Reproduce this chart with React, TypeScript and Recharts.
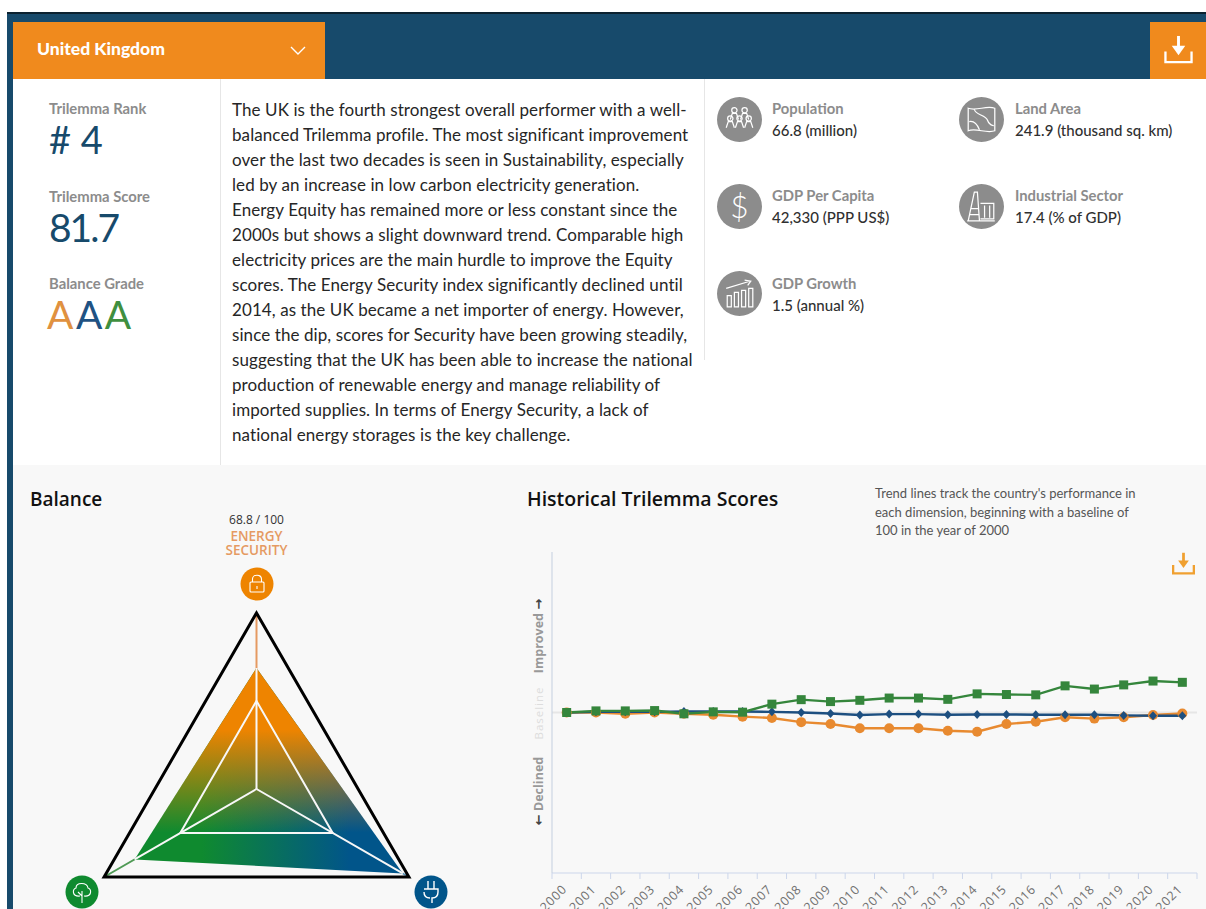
import React from "react";
import { LineChart, Line, XAxis, YAxis, ReferenceLine, RadarChart, Radar, PolarAngleAxis, PolarRadiusAxis } from "recharts";

const years = ["2000","2001","2002","2003","2004","2005","2006","2007","2008","2009","2010","2011","2012","2013","2014","2015","2016","2017","2018","2019","2020","2021"];
const security = [100,100,99.6,100,99.6,99.3,98.7,98.3,97,96.4,95.1,95.1,95.1,94.3,94,96.4,97.1,98.5,98.1,98.5,99.2,99.7];
const equity = [100,100.2,100.2,100.2,100.3,100.3,100.3,100.2,100,99.7,99.2,99.5,99.5,99.3,99.4,99.4,99.3,99.3,99.3,99.1,99,99];
const sustainability = [100,100.5,100.5,100.6,99.6,100.2,100.1,102.6,104,103.4,103.8,104.5,104.5,104.1,105.8,105.6,105.5,108.3,107.3,108.6,109.8,109.4];
const lineRows = years.map((year, i) => ({ year, security: security[i], equity: equity[i], sustainability: sustainability[i] }));

const radarAxes = ["Energy Security", "Energy Equity", "Environmental Sustainability"];
const radarScores = [68.8, 96, 80];
const radarOuter = [100, 100, 100];
const radarInner = [50, 50, 50];
const radarRows = radarAxes.map((axis, i) => ({
  axis,
  score: radarScores[i],
  outer: radarOuter[i],
  inner: radarInner[i],
  outerA: i === 0 ? radarOuter[i] : 0,
  outerB: i === 1 ? radarOuter[i] : 0,
  outerC: i === 2 ? radarOuter[i] : 0,
  scoreA: i === 0 ? radarScores[i] : 0,
  scoreB: i === 1 ? radarScores[i] : 0,
  scoreC: i === 2 ? radarScores[i] : 0,
}));

const bodyLines = [
  "The UK is the fourth strongest overall performer with a well-",
  "balanced Trilemma profile. The most significant improvement",
  "over the last two decades is seen in Sustainability, especially",
  "led by an increase in low carbon electricity generation.",
  "Energy Equity has remained more or less constant since the",
  "2000s but shows a slight downward trend. Comparable high",
  "electricity prices are the main hurdle to improve the Equity",
  "scores. The Energy Security index significantly declined until",
  "2014, as the UK became a net importer of energy. However,",
  "since the dip, scores for Security have been growing steadily,",
  "suggesting that the UK has been able to increase the national",
  "production of renewable energy and manage reliability of",
  "imported supplies. In terms of Energy Security, a lack of",
  "national energy storages is the key challenge.",
];
const noteLines = [
  "Trend lines track the country's performance in",
  "each dimension, beginning with a baseline of",
  "100 in the year of 2000",
];

const ORANGE = "#f08a1d";
const NAVY = "#174a6b";
const LATO = "Lato, sans-serif";
const OPEN = "'Open Sans', sans-serif";
const PLOT_W = 645;
const BAND = PLOT_W / years.length;

const abs = (left: number, top: number, extra: React.CSSProperties = {}): React.CSSProperties => ({
  position: "absolute", left, top, whiteSpace: "nowrap", ...extra,
});

function YearTick(props: any) {
  const { x, y, payload, index } = props;
  return (
    <g>
      <line x1={x - BAND / 2} x2={x - BAND / 2} y1={y - 6} y2={y} stroke="#ccd6eb" />
      {index === years.length - 1 && <line x1={x + BAND / 2} x2={x + BAND / 2} y1={y - 6} y2={y} stroke="#ccd6eb" />}
      <text x={x + 1} y={y + 11} textAnchor="end" transform={`rotate(-45 ${x + 1} ${y + 11})`} fontFamily={OPEN} fontSize={12.5} letterSpacing={0.8} fill="#707070">{payload.value}</text>
    </g>
  );
}
const circleDot = (p: any) => <circle key={p.index} cx={p.cx} cy={p.cy} r={5} fill="#e88a30" />;
const squareDot = (p: any) => <rect key={p.index} x={p.cx - 4.5} y={p.cy - 4.5} width={9} height={9} fill="#35863c" />;
const diamondDot = (p: any) => <path key={p.index} d={`M${p.cx} ${p.cy - 4.5}L${p.cx + 4} ${p.cy}L${p.cx} ${p.cy + 4.5}L${p.cx - 4} ${p.cy}Z`} fill="#1d4f80" />;

function Download({ x, y, size, color, weight }: { x: number; y: number; size: number; color: string; weight: number }) {
  return (
    <svg style={abs(x, y)} width={size} height={size} viewBox="0 0 30 30" fill="none">
      <path d="M1.500 17V28H28.500V17" stroke={color} strokeWidth={weight} />
      <path d="M15 1V15" stroke={color} strokeWidth={weight + 0.6} />
      <path d="M8 11H22L15 21Z" fill={color} />
    </svg>
  );
}

function StatIcon({ cx, cy, r, kind }: { cx: number; cy: number; r: number; kind: string }) {
  const s = { stroke: "#fff", strokeWidth: 1.2, fill: "none" } as const;
  return (
    <svg style={abs(cx - r, cy - r)} width={r * 2} height={r * 2} viewBox="-22 -22 44 44">
      <circle r={22} fill="#8c8c8c" />
      {kind === "people" && (
        <g {...s}>
          {[[-5, -7], [5, -7], [-9, 1], [0, 1], [9, 1]].map(([a, b], i) => (
            <g key={i}><circle cx={a} cy={b - 2} r={2.6} /><path d={`M${a - 4} ${b + 7}L${a - 2} ${b + 1}H${a + 2}L${a + 4} ${b + 7}`} /></g>
          ))}
        </g>
      )}
      {kind === "map" && (
        <g {...s}><path d="M-13 -11C-5 -8 5 -14 13 -11V11C5 14 -5 8 -13 11Z" /><path d="M-7 -10C-6 -4 4 -5 6 1C7 5 11 6 12 6M-12 2C-7 1 -4 5 -2 10" /></g>
      )}
      {kind === "dollar" && <text y={11} textAnchor="middle" fontFamily={LATO} fontWeight={300} fontSize={31} fill="#fff">$</text>}
      {kind === "industry" && (
        <g {...s}><path d="M-13 14L-7 -14H-4L-2 14M-14 14H13M-1 -3H12V12H-1M3 -1V11M8 -1V11M-10 2H-3M-12 8H-2" /></g>
      )}
      {kind === "growth" && (
        <g {...s}><path d="M-12 13V2H-8V13ZM-5 13V-1H-1V13ZM2 13V-3H6V13ZM9 13V-5H13V13ZM-13 -5L10 -12M5 -13L11 -12L8 -8" /></g>
      )}
    </svg>
  );
}

function CircleBadge({ cx, cy, fill, kind }: { cx: number; cy: number; fill: string; kind: string }) {
  const s = { stroke: "#fff", strokeWidth: 1.1, fill: "none" } as const;
  return (
    <svg style={abs(cx - 17, cy - 17)} width={34} height={34} viewBox="-17 -17 34 34">
      <circle r={16.5} fill={fill} />
      {kind === "lock" && <g {...s}><rect x={-7} y={-2} width={14} height={10} rx={1} /><path d="M-4.500 -2V-5C-4.500 -10 4.500 -10 4.500 -5V-2M0 2V5" /></g>}
      {kind === "tree" && <g {...s}><path d="M0 11V-1M0 4L-4 0M-2 4C-10 5 -10 -3 -6 -4C-6 -10 5 -10 6 -4C10 -3 10 5 2 4" /></g>}
      {kind === "plug" && <g {...s} strokeWidth={1.4}><path d="M-3 -11V-3M3 -11V-3M-7 -3H7V0C7 6 3 6 1 6V11M-1 6C-3 6 -7 6 -7 0" /></g>}
    </svg>
  );
}

const stats = [
  { cx: 739, cy: 119, x: 772, kind: "people", label: "Population", value: "66.8 (million)" },
  { cx: 981.500, cy: 119, x: 1015, kind: "map", label: "Land Area", value: "241.9 (thousand sq. km)" },
  { cx: 739, cy: 206, x: 772, kind: "dollar", label: "GDP Per Capita", value: "42,330 (PPP US$)" },
  { cx: 981.500, cy: 206, x: 1015, kind: "industry", label: "Industrial Sector", value: "17.4 (% of GDP)" },
  { cx: 739, cy: 293.500, x: 772, kind: "growth", label: "GDP Growth", value: "1.5 (annual %)" },
];

const labelStyle: React.CSSProperties = { fontFamily: LATO, fontWeight: 700, fontSize: 14.8, color: "#8c8c8c", lineHeight: "18px" };
const arrowStyle: React.CSSProperties = { color: "#444", fontFamily: "'DejaVu Sans', sans-serif", fontWeight: 700, fontSize: 13 };

export default function App() {
  return (
    <div style={{ position: "absolute", left: 0, top: 0, width: 1206, height: 909, overflow: "hidden", background: "#fff", fontFamily: LATO }}>
      {/* frame */}
      <div style={abs(7, 12, { width: 1199, height: 2, background: "#0c2230" })} />
      <div style={abs(7, 14, { width: 1199, height: 65, background: NAVY })} />
      <div style={abs(7, 14, { width: 6, height: 895, background: NAVY })} />
      <div style={abs(13, 22, { width: 312, height: 56.500, background: ORANGE })} />
      <div style={abs(37, 38, { color: "#fff", fontWeight: 900, fontSize: 17.5, lineHeight: "21px" })}>United Kingdom</div>
      <svg style={abs(290, 45)} width={16} height={12}><path d="M1 2L8 9L15 2" fill="none" stroke="#fff" strokeWidth={1.4} /></svg>
      <div style={abs(1150, 22, { width: 56, height: 56.500, background: ORANGE })} />
      <Download x={1164} y={35} size={29} color="#fff" weight={2.4} />

      {/* upper panel */}
      <div style={abs(220, 79, { width: 1, height: 386, background: "#e6e6e6" })} />
      <div style={abs(704, 79, { width: 1, height: 281, background: "#e6e6e6" })} />
      <div style={abs(49, 99, labelStyle)}>Trilemma Rank</div>
      <div style={abs(49, 116, { fontSize: 38, lineHeight: "46px", color: NAVY })}>#&nbsp;4</div>
      <div style={abs(49, 187, labelStyle)}>Trilemma Score</div>
      <div style={abs(49, 203, { fontSize: 39, lineHeight: "48px", letterSpacing: -2, color: NAVY })}>81.7</div>
      <div style={abs(49, 274, labelStyle)}>Balance Grade</div>
      <div style={abs(47, 290, { fontSize: 39, lineHeight: "48px", letterSpacing: 2.5 })}>
        <span style={{ color: "#e0913f" }}>A</span><span style={{ color: "#1f5283" }}>A</span><span style={{ color: "#3f8f3f" }}>A</span>
      </div>
      {bodyLines.map((line, i) => (
        <div key={i} style={abs(232, 96.700 + i * 25, { fontSize: 17, letterSpacing: 0.085, lineHeight: "25px", color: "#262626" })}>{line}</div>
      ))}
      {stats.map((s) => (
        <React.Fragment key={s.label}>
          <StatIcon cx={s.cx} cy={s.cy} r={22.500} kind={s.kind} />
          <div style={abs(s.x, s.cy - 20, labelStyle)}>{s.label}</div>
          <div style={abs(s.x, s.cy + 2, { fontSize: 15, fontWeight: 500, lineHeight: "18px", color: "#303030" })}>{s.value}</div>
        </React.Fragment>
      ))}

      {/* lower panel */}
      <div style={abs(13, 465, { width: 1193, height: 444, background: "#f8f8f8" })} />
      <div style={abs(30, 486, { fontFamily: OPEN, fontWeight: 600, fontSize: 19, lineHeight: "26px", color: "#111" })}>Balance</div>
      <div style={abs(527, 486, { fontFamily: OPEN, fontWeight: 600, fontSize: 19.500, lineHeight: "26px", color: "#111" })}>Historical Trilemma Scores</div>
      {noteLines.map((line, i) => (
        <div key={i} style={abs(875, 484 + i * 18.500, { fontSize: 13, lineHeight: "18px", color: "#555" })}>{line}</div>
      ))}
      <Download x={1172} y={552} size={23} color="#f0a030" weight={3} />

      <div style={abs(156.500, 512, { width: 200, textAlign: "center", fontFamily: OPEN, fontSize: 12, lineHeight: "16px", color: "#333" })}>68.8 / 100</div>
      <div style={abs(156.500, 530, { width: 200, textAlign: "center", fontFamily: OPEN, fontWeight: 600, fontSize: 13.500, lineHeight: "13.500px", color: "#e59a62" })}>ENERGY<br />SECURITY</div>
      <CircleBadge cx={256.500} cy={584} fill="#ee8400" kind="lock" />
      <CircleBadge cx={82} cy={892} fill="#0f8a2f" kind="tree" />
      <CircleBadge cx={431} cy={892} fill="#01558a" kind="plug" />

      <div style={abs(60, 590)}>
        <RadarChart width={400} height={400} cx={196.500} cy={199} outerRadius={176} data={radarRows} startAngle={90} endAngle={-270} margin={{ top: 0, right: 0, bottom: 0, left: 0 }}>
          <defs>
            <linearGradient id="baseFill" x1="0" y1="0" x2="1" y2="0">
              <stop offset="0.25" stopColor="#0f8a2f" />
              <stop offset="0.8" stopColor="#01558a" />
            </linearGradient>
            <linearGradient id="topFill" x1="0" y1="0" x2="0" y2="1">
              <stop offset="0.3" stopColor="#ee8400" stopOpacity={1} />
              <stop offset="0.8" stopColor="#ee8400" stopOpacity={0} />
            </linearGradient>
          </defs>
          <PolarAngleAxis dataKey="axis" tick={false} axisLine={false} tickLine={false} />
          <PolarRadiusAxis domain={[0, 100]} tick={false} axisLine={false} tickLine={false} />
          <Radar dataKey="outerA" stroke="#e59a62" strokeWidth={2} fill="none" isAnimationActive={false} dot={false} />
          <Radar dataKey="outerB" stroke="#5b93b5" strokeWidth={1.500} fill="none" isAnimationActive={false} dot={false} />
          <Radar dataKey="outerC" stroke="#4f9a55" strokeWidth={2} fill="none" isAnimationActive={false} dot={false} />
          <Radar dataKey="score" stroke="none" fill="url(#baseFill)" fillOpacity={1} isAnimationActive={false} dot={false} />
          <Radar dataKey="score" stroke="none" fill="url(#topFill)" fillOpacity={1} isAnimationActive={false} dot={false} />
          <Radar dataKey="scoreA" stroke="#f7f7f7" strokeWidth={2} fill="none" isAnimationActive={false} dot={false} />
          <Radar dataKey="scoreB" stroke="#f7f7f7" strokeWidth={2} fill="none" isAnimationActive={false} dot={false} />
          <Radar dataKey="scoreC" stroke="#f7f7f7" strokeWidth={2} fill="none" isAnimationActive={false} dot={false} />
          <Radar dataKey="inner" stroke="#f7f7f7" strokeWidth={2} fill="none" isAnimationActive={false} dot={false} />
          <Radar dataKey="outer" stroke="#000" strokeWidth={3} fill="none" isAnimationActive={false} dot={false} />
        </RadarChart>
      </div>

      <div style={abs(538, 636, { transform: "translate(-50%,-50%) rotate(-90deg)", fontFamily: OPEN, fontWeight: 700, fontSize: 12.500, color: "#999" })}>
        Improved <span style={arrowStyle}>→</span>
      </div>
      <div style={abs(538, 713, { transform: "translate(-50%,-50%) rotate(-90deg)", fontFamily: OPEN, fontSize: 11.500, letterSpacing: 1, color: "#ddd" })}>Baseline</div>
      <div style={abs(538, 791, { transform: "translate(-50%,-50%) rotate(-90deg)", fontFamily: OPEN, fontWeight: 700, fontSize: 12.500, color: "#999" })}>
        <span style={arrowStyle}>←</span> Declined
      </div>

      <div style={abs(540, 540)}>
        <LineChart width={667} height={393} data={lineRows} margin={{ top: 12, right: 10, bottom: 0, left: 11 }}>
          <XAxis dataKey="year" scale="band" interval={0} height={60} stroke="#ccd6eb" tickLine={false} tickSize={6} tickMargin={0} tick={YearTick} />
          <YAxis domain={[50, 150]} width={1} tick={false} tickLine={false} axisLine={{ stroke: "#c4cfdf" }} />
          <ReferenceLine y={100} stroke="#e6e6e6" strokeWidth={2} />
          <Line dataKey="security" stroke="#e88a30" strokeWidth={2.4} dot={circleDot} isAnimationActive={false} />
          <Line dataKey="equity" stroke="#1d4f80" strokeWidth={2.4} dot={diamondDot} isAnimationActive={false} />
          <Line dataKey="sustainability" stroke="#35863c" strokeWidth={2.4} dot={squareDot} isAnimationActive={false} />
        </LineChart>
      </div>
    </div>
  );
}
